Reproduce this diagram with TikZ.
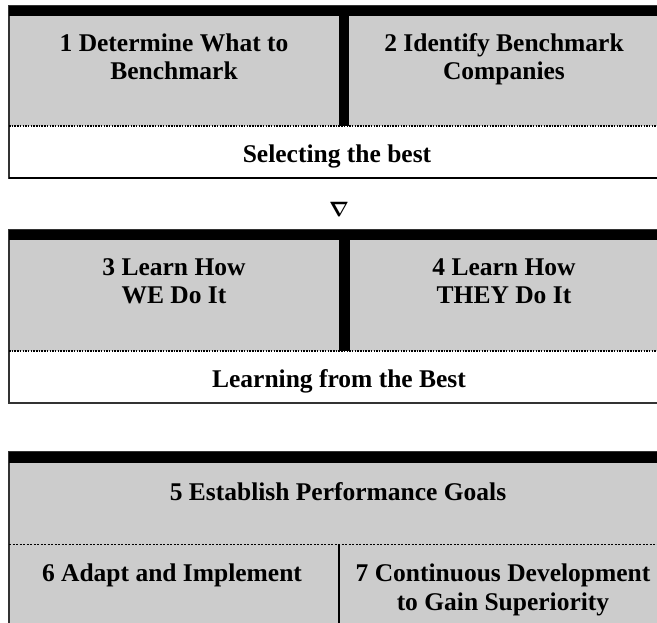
\documentclass[tikz,border=0pt]{standalone}
\usepackage{fontspec}
\setmainfont{Liberation Serif}

\begin{document}
\begin{tikzpicture}[x=1pt, y=-1pt,
    cellfill/.style={fill=black!20},
    frame/.style={draw=black!80, line width=1.5pt},
    dotline/.style={line width=1.5pt, dash pattern=on 1.5pt off 1.2pt},
    steptext/.style={font=\bfseries\fontsize{25.5}{28.3}\selectfont, align=center, inner sep=0pt, anchor=base},
    marktext/.style={font=\fontsize{22}{22}\selectfont\boldmath, inner sep=0pt}]

    % Page size (657 x 623 px, 1 px = 1 pt)
    \useasboundingbox (0,0) rectangle (657,623);

    % Phase 1: selecting the best
    \fill[cellfill] (9,6) rectangle (667,126);
    \draw[frame] (9,6) rectangle (667,178);
    \fill (9,6) rectangle (667,16);
    \fill (339,16) rectangle (349,126);
    \draw[dotline] (9,126) -- (667,126);
    \draw[line width=2pt] (9,178) -- (667,178);

    % base anchor sits on the last line of a two-line node
    \node[steptext] (what) at (174,80) {1 Determine What to\\Benchmark};
    \node[steptext] (companies) at (504,80) {2 Identify Benchmark\\Companies};
    \node[steptext] (selecting) at (337,163) {Selecting the best};

    % Marker between phase 1 and phase 2
    \node[marktext] (mark) at (339,209) {$\nabla$};

    % Phase 2: learning from the best
    \fill[cellfill] (9,230) rectangle (667,351);
    \draw[frame] (9,230) rectangle (667,403);
    \fill (9,230) rectangle (667,240);
    \fill (339,240) rectangle (350,351);
    \draw[dotline] (9,351) -- (667,351);

    \node[steptext] (learnwe) at (174,304) {3 Learn How\\WE Do It};
    \node[steptext] (learnthey) at (504,304) {4 Learn How\\THEY Do It};
    \node[steptext] (learning) at (339,387) {Learning from the Best};

    % Phase 3: goals, adapting and developing (runs off the page bottom)
    \fill[cellfill] (9,452) rectangle (667,640);
    \draw[frame] (9,452) rectangle (667,640);
    \fill (9,452) rectangle (667,463);
    \draw[line width=1pt, dash pattern=on 2pt off 1.5pt] (9,544) -- (667,544);
    \draw[line width=1.5pt] (339,544) -- (339,640);

    \node[steptext] (goals) at (338,500) {5 Establish Performance Goals};
    \node[steptext] (adapt) at (172,581.7) {6 Adapt and Implement};
    \node[steptext] (develop) at (503,610) {7 Continuous Development\\to Gain Superiority};

\end{tikzpicture}
\end{document}
